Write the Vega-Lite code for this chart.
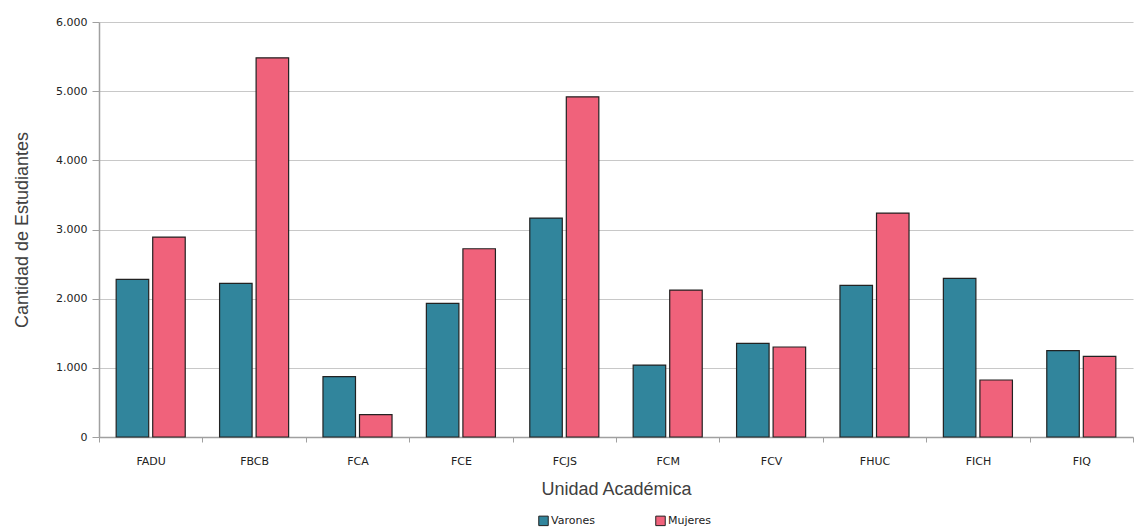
{
  "$schema": "https://vega.github.io/schema/vega-lite/v6.json",
  "width": 1034,
  "height": 415,
  "autosize": "none",
  "padding": {"left": 99, "top": 22, "right": 1, "bottom": 94},
  "background": "white",
  "config": {
    "locale": {"number": {"decimal": ",", "thousands": ".", "grouping": [3], "currency": ["", ""]}},
    "view": {"stroke": null},
    "axis": {"labelFont": "DejaVu Sans", "titleFont": "Liberation Sans", "titleFontWeight": "normal"}
  },
  "data": {
    "values": [
      {"unidad": "FADU", "sexo": "Varones", "cantidad": 2278},
      {"unidad": "FADU", "sexo": "Mujeres", "cantidad": 2890},
      {"unidad": "FBCB", "sexo": "Varones", "cantidad": 2221},
      {"unidad": "FBCB", "sexo": "Mujeres", "cantidad": 5482},
      {"unidad": "FCA", "sexo": "Varones", "cantidad": 872},
      {"unidad": "FCA", "sexo": "Mujeres", "cantidad": 323},
      {"unidad": "FCE", "sexo": "Varones", "cantidad": 1932},
      {"unidad": "FCE", "sexo": "Mujeres", "cantidad": 2722},
      {"unidad": "FCJS", "sexo": "Varones", "cantidad": 3165},
      {"unidad": "FCJS", "sexo": "Mujeres", "cantidad": 4918},
      {"unidad": "FCM", "sexo": "Varones", "cantidad": 1040},
      {"unidad": "FCM", "sexo": "Mujeres", "cantidad": 2124},
      {"unidad": "FCV", "sexo": "Varones", "cantidad": 1354},
      {"unidad": "FCV", "sexo": "Mujeres", "cantidad": 1301},
      {"unidad": "FHUC", "sexo": "Varones", "cantidad": 2192},
      {"unidad": "FHUC", "sexo": "Mujeres", "cantidad": 3237},
      {"unidad": "FICH", "sexo": "Varones", "cantidad": 2293},
      {"unidad": "FICH", "sexo": "Mujeres", "cantidad": 824},
      {"unidad": "FIQ", "sexo": "Varones", "cantidad": 1248},
      {"unidad": "FIQ", "sexo": "Mujeres", "cantidad": 1166}
    ]
  },
  "mark": {"type": "bar", "stroke": "#222222", "strokeWidth": 1.2},
  "encoding": {
    "x": {
      "field": "unidad",
      "type": "nominal",
      "sort": ["FADU", "FBCB", "FCA", "FCE", "FCJS", "FCM", "FCV", "FHUC", "FICH", "FIQ"],
      "scale": {"paddingInner": 0, "paddingOuter": 0},
      "axis": {
        "title": "Unidad Académica",
        "titleFontSize": 18,
        "titleColor": "#404040",
        "titlePadding": 14,
        "labelAngle": 0,
        "labelFontSize": 11,
        "labelColor": "#222222",
        "labelPadding": 13,
        "tickBand": "extent",
        "tickSize": 5,
        "tickColor": "#a0a0a0",
        "domainColor": "#a0a0a0",
        "domainWidth": 1.5
      }
    },
    "xOffset": {
      "field": "sexo",
      "type": "nominal",
      "sort": ["Varones", "Mujeres"],
      "scale": {"paddingInner": 0.11, "paddingOuter": 0.47}
    },
    "y": {
      "field": "cantidad",
      "type": "quantitative",
      "scale": {"domain": [0, 6000], "nice": false},
      "axis": {
        "title": "Cantidad de Estudiantes",
        "titleFontSize": 18,
        "titleColor": "#404040",
        "titlePadding": 24,
        "format": ",d",
        "values": [0, 1000, 2000, 3000, 4000, 5000, 6000],
        "labelFontSize": 11,
        "labelColor": "#222222",
        "labelPadding": 5,
        "tickSize": 7,
        "tickColor": "#a0a0a0",
        "domainColor": "#a0a0a0",
        "domainWidth": 1.5,
        "gridColor": "#c8c8c8",
        "gridWidth": 1.2
      }
    },
    "color": {
      "field": "sexo",
      "type": "nominal",
      "sort": ["Varones", "Mujeres"],
      "scale": {"domain": ["Varones", "Mujeres"], "range": ["#31859C", "#F0627B"]},
      "legend": {
        "title": null,
        "orient": "none",
        "direction": "horizontal",
        "legendX": 439,
        "legendY": 493,
        "symbolType": "square",
        "symbolSize": 90,
        "symbolStrokeColor": "#222222",
        "symbolStrokeWidth": 1,
        "labelFont": "DejaVu Sans",
        "labelFontSize": 11,
        "labelColor": "#222222",
        "labelOffset": 2,
        "columnPadding": 58
      }
    }
  }
}
